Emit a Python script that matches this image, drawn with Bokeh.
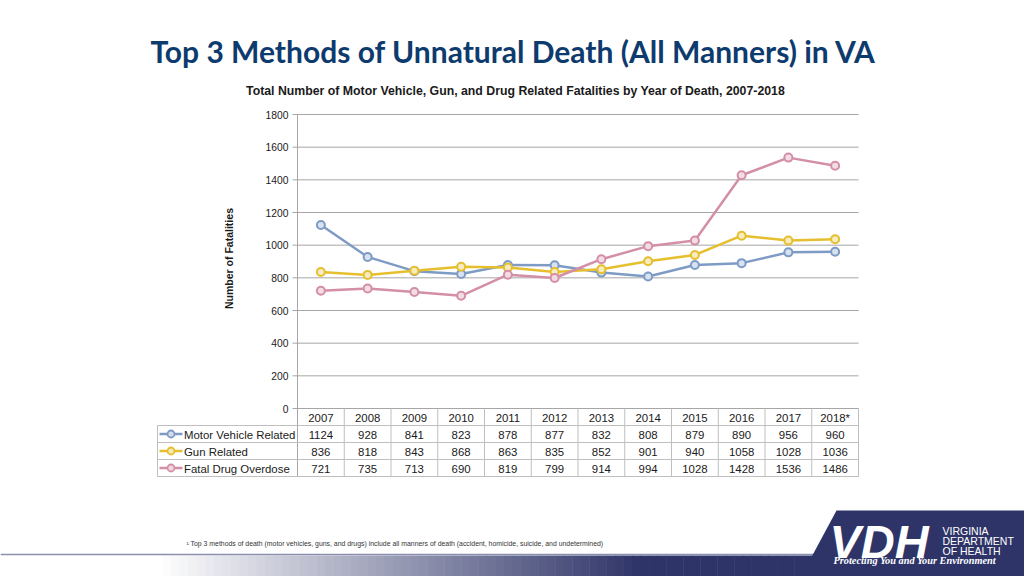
import numpy as np
from bokeh.plotting import figure
from bokeh.models import Range1d
from bokeh.core.properties import value
from bokeh.embed import file_html
from bokeh.resources import INLINE

# ---------------- data ----------------
years = ["2007", "2008", "2009", "2010", "2011", "2012", "2013", "2014", "2015", "2016", "2017", "2018*"]
motor_vehicle = [1124, 928, 841, 823, 878, 877, 832, 808, 879, 890, 956, 960]
gun_related = [836, 818, 843, 868, 863, 835, 852, 901, 940, 1058, 1028, 1036]
drug_overdose = [721, 735, 713, 690, 819, 799, 914, 994, 1028, 1428, 1536, 1486]
series_names = ["Motor Vehicle Related", "Gun Related", "Fatal Drug Overdose"]
series_values = [motor_vehicle, gun_related, drug_overdose]
series_colors = ["#7E9BC6", "#E6BF2E", "#D48FA8"]
y_ticks = [0, 200, 400, 600, 800, 1000, 1200, 1400, 1600, 1800]

title = "Top 3 Methods of Unnatural Death (All Manners) in VA"
subtitle = "Total Number of Motor Vehicle, Gun, and Drug Related Fatalities by Year of Death, 2007-2018"
y_label = "Number of Fatalities"
footnote = "\u00b9 Top 3 methods of death (motor vehicles, guns, and drugs) include all manners of death (accident, homicide, suicide, and undetermined)"

# ---------------- layout (page pixel space) ----------------
W, H = 1024, 576
PL, PR, PT, PB = 297.0, 858.0, 114.0, 408.0   # plot area
YMAX = 1800.0
n = len(years)
colw = (PR - PL) / n
ROWS = [425.0, 442.0, 459.0, 476.0]  # table row lines
TBL_L = 157.0

FONT = "Liberation Sans"

p = figure(width=W, height=H, output_backend="svg", toolbar_location=None, tools="",
           x_range=Range1d(0, W), y_range=Range1d(H, 0),
           x_axis_location=None, y_axis_location=None, min_border=0)
p.outline_line_color = None
p.grid.visible = False
p.background_fill_color = "white"
p.border_fill_color = "white"

# chart scales mapped onto the page
px_per_val = (PB - PT) / YMAX
p.extra_y_ranges = {"val": Range1d(start=(PB - H) / px_per_val, end=PB / px_per_val)}
x0c = PL + colw / 2
p.extra_x_ranges = {"idx": Range1d(start=(0 - x0c) / colw, end=(W - x0c) / colw)}

idx = np.arange(n)

# ---------------- header texts ----------------
p.text(x=[513], y=[50], text=[title], text_font=value("Lato"), text_font_style="bold",
       text_font_size="30px", text_color="#0D3B6E", text_align="center", text_baseline="middle")
p.text(x=[515], y=[90], text=[subtitle], text_font=value(FONT), text_font_style="bold",
       text_font_size="12.3px", text_color="#1a1a1a", text_align="center", text_baseline="middle")

# ---------------- grid, axis ----------------
p.segment(x0=[PL] * len(y_ticks), x1=[PR] * len(y_ticks), y0=y_ticks, y1=y_ticks,
          y_range_name="val", line_color="#A6A6A6", line_width=1)
p.segment(x0=[PL - 5] * len(y_ticks), x1=[PL] * len(y_ticks), y0=y_ticks, y1=y_ticks,
          y_range_name="val", line_color="#A6A6A6", line_width=1)
p.text(x=[288] * len(y_ticks), y=y_ticks, text=[str(t) for t in y_ticks], y_range_name="val",
       text_font=value(FONT), text_font_size="10.3px", text_color="#1a1a1a",
       text_align="right", text_baseline="middle")
p.text(x=[228], y=[258], text=[y_label], angle=np.pi / 2, text_font=value(FONT),
       text_font_style="bold", text_font_size="10.5px", text_color="#1a1a1a",
       text_align="center", text_baseline="middle")

# ---------------- table ----------------
bounds = np.arange(n + 1) - 0.5
p.segment(x0=bounds, x1=bounds, y0=[PB] * (n + 1), y1=[ROWS[-1]] * (n + 1),
          x_range_name="idx", line_color="#BFBFBF", line_width=1)
p.segment(x0=[PL], x1=[PL], y0=[PT], y1=[ROWS[-1]], line_color="#A6A6A6", line_width=1)
p.segment(x0=[TBL_L] * 4, x1=[PR] * 4, y0=ROWS, y1=ROWS, line_color="#BFBFBF", line_width=1)
p.segment(x0=[TBL_L], x1=[TBL_L], y0=[ROWS[0]], y1=[ROWS[-1]], line_color="#BFBFBF", line_width=1)

p.text(x=idx, y=[(PB + ROWS[0]) / 2 + 0.5] * n, text=years, x_range_name="idx",
       text_font=value(FONT), text_font_size="11.4px", text_color="#1a1a1a",
       text_align="center", text_baseline="middle")
for r, (name, vals, col) in enumerate(zip(series_names, series_values, series_colors)):
    yc = (ROWS[r] + ROWS[r + 1]) / 2 + 0.5
    p.text(x=idx, y=[yc] * n, text=[str(v) for v in vals], x_range_name="idx",
           text_font=value(FONT), text_font_size="11.4px", text_color="#1a1a1a",
           text_align="center", text_baseline="middle")
    p.line(x=[159, 182], y=[yc - 0.5, yc - 0.5], line_color=col, line_width=2.5)
    p.scatter(x=[170.5], y=[yc - 0.5], size=7, marker="circle", line_color=col, line_width=1.8,
              fill_color="white")
    p.scatter(x=[170.5], y=[yc - 0.5], size=7, marker="circle", line_color=None,
              fill_color=col, fill_alpha=0.35)
    p.text(x=[183.5], y=[yc], text=[name], text_font=value(FONT), text_font_size="11.4px",
           text_color="#1a1a1a", text_align="left", text_baseline="middle")

# ---------------- series ----------------
for vals, col in zip(series_values, series_colors):
    p.line(x=idx, y=vals, x_range_name="idx", y_range_name="val", line_color=col, line_width=2.5)
    p.scatter(x=idx, y=vals, x_range_name="idx", y_range_name="val", size=8, marker="circle",
              line_color=col, line_width=2, fill_color="white")
    p.scatter(x=idx, y=vals, x_range_name="idx", y_range_name="val", size=8, marker="circle",
              line_color=None, fill_color=col, fill_alpha=0.3)

# ---------------- footnote ----------------
p.text(x=[186], y=[543], text=[footnote], text_font=value(FONT), text_font_size="6.9px",
       text_color="#333333", text_align="left", text_baseline="middle")

# ---------------- bottom band ----------------
steps = 120
xs = np.linspace(0, W, steps + 1)
def band_color(x):
    t = np.clip((x - 160) / (640 - 160), 0, 1)
    c0 = np.array([255, 255, 255]); c1 = np.array([46, 52, 104])
    c = (c0 + (c1 - c0) * t).astype(int)
    return "#%02x%02x%02x" % tuple(c)
cols = [band_color((xs[i] + xs[i + 1]) / 2) for i in range(steps)]
p.quad(left=xs[:-1], right=xs[1:] + 0.5, top=[555] * steps, bottom=[H + 1] * steps,
       fill_color=cols, line_color=None)
p.segment(x0=[0], x1=[W], y0=[554], y1=[554], line_color="#8A8FB0", line_width=1.5)

# ---------------- logo ----------------
p.patch(x=[836, W, W, 800], y=[510, 510, H + 1, H + 1], fill_color="#2E3468", line_color=None)
p.text(x=[829], y=[541], text=["VDH"], text_font=value("Liberation Sans"), text_font_style="bold italic",
       text_font_size="47px", text_color="white", text_align="left", text_baseline="middle")
p.text(x=[942] * 3, y=[530, 540, 550], text=["VIRGINIA", "DEPARTMENT", "OF HEALTH"],
       text_font=value("Liberation Sans"), text_font_size="10.5px", text_color="white",
       text_align="left", text_baseline="middle")
p.text(x=[833], y=[560], text=["Protecting You and Your Environment"],
       text_font=value("Liberation Serif"), text_font_style="bold italic", text_font_size="10.3px",
       text_color="white", text_align="left", text_baseline="middle")

open("out.html", "w").write(file_html(p, INLINE))
